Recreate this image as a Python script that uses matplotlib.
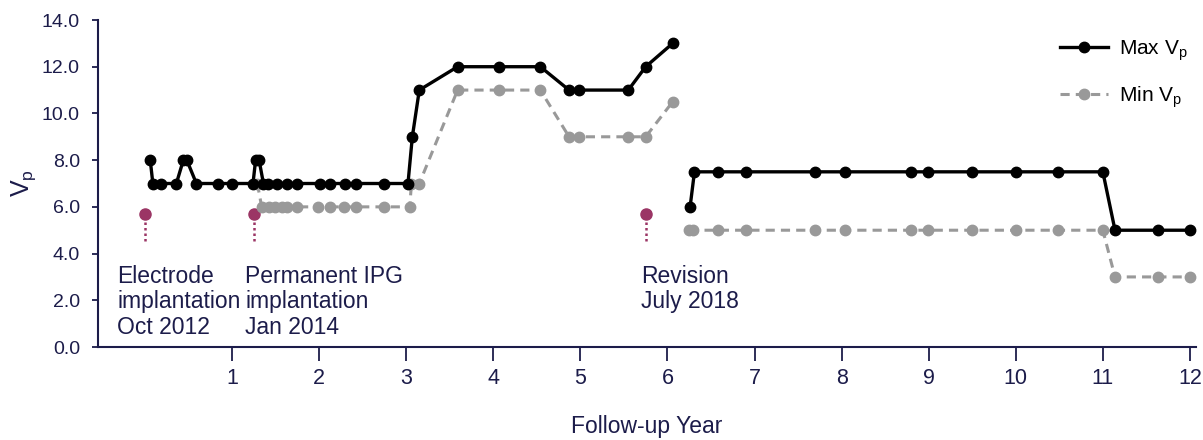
import matplotlib
matplotlib.use("Agg")
import matplotlib.pyplot as plt
import numpy as np

plt.rcParams['font.family'] = ['Liberation Sans', 'DejaVu Sans']
plt.rcParams['mathtext.fontset'] = 'custom'
plt.rcParams['mathtext.rm'] = 'Liberation Sans'
plt.rcParams['mathtext.it'] = 'Liberation Sans'

NAVY = '#1c1c4a'
GRAY = '#999999'
PLUM = '#9b3565'

# Max Vp, first period (before revision)
max_x1 = [0.06, 0.09, 0.18, 0.36, 0.44, 0.48, 0.59, 0.84, 1.00, 1.24, 1.27, 1.31,
          1.36, 1.41, 1.51, 1.63, 1.74, 2.01, 2.13, 2.30, 2.42, 2.74, 3.02, 3.07,
          3.15, 3.59, 4.07, 4.54, 4.87, 4.98, 5.55, 5.75, 6.06]
max_y1 = [8, 7, 7, 7, 8, 8, 7, 7, 7, 7, 8, 8,
          7, 7, 7, 7, 7, 7, 7, 7, 7, 7, 7, 9,
          11, 12, 12, 12, 11, 11, 11, 12, 13]
# Max Vp, after revision
max_x2 = [6.26, 6.31, 6.58, 6.90, 7.69, 8.04, 8.80, 8.99, 9.50, 10.00, 10.48, 11.00,
          11.14, 11.63, 12.00]
max_y2 = [6, 7.5, 7.5, 7.5, 7.5, 7.5, 7.5, 7.5, 7.5, 7.5, 7.5, 7.5,
          5, 5, 5]

# Min Vp
min_x1 = [1.29, 1.34, 1.42, 1.49, 1.57, 1.63, 1.74, 1.99, 2.12, 2.28, 2.42, 2.75,
          3.04, 3.06, 3.15, 3.59, 4.07, 4.54, 4.87, 4.98, 5.55, 5.75, 6.06]
min_y1 = [7, 6, 6, 6, 6, 6, 6, 6, 6, 6, 6, 6,
          6, 7, 7, 11, 11, 11, 9, 9, 9, 9, 10.5]
min_x2 = [6.25, 6.29, 6.58, 6.90, 7.69, 8.04, 8.80, 8.99, 9.50, 10.00, 10.48, 11.00,
          11.14, 11.63, 12.00]
min_y2 = [5, 5, 5, 5, 5, 5, 5, 5, 5, 5, 5, 5,
          3, 3, 3]

# clinical events
event_x = [0.0, 1.25, 5.75]
event_text_x = [-0.32, 1.15, 5.70]
event_labels = ['Electrode\nimplantation\nOct 2012',
                'Permanent IPG\nimplantation\nJan 2014',
                'Revision\nJuly 2018']

fig = plt.figure(figsize=(12.03, 4.40), dpi=100)
ax = fig.add_axes([98 / 1203, 1 - 347 / 440, (1196 - 98) / 1203, (347 - 20) / 440])

ax.plot(min_x1, min_y1, color=GRAY, lw=2.2, ls=(0, (3, 2)), marker='o', ms=7.5,
        label='Min V$_\\mathregular{p}$', zorder=2)
ax.plot(min_x2, min_y2, color=GRAY, lw=2.2, ls=(0, (3, 2)), marker='o', ms=7.5, zorder=2)
ax.plot(max_x1, max_y1, color='black', lw=2.4, marker='o', ms=7.5,
        label='Max V$_\\mathregular{p}$', zorder=3)
ax.plot(max_x2, max_y2, color='black', lw=2.4, marker='o', ms=7.5, zorder=3)

for ex, tx, lab in zip(event_x, event_text_x, event_labels):
    ax.plot([ex, ex], [4.55, 5.7], color=PLUM, lw=1.8, ls=(0, (1, 1.2)), zorder=1)
    ax.plot([ex], [5.7], 'o', color=PLUM, ms=8, zorder=1)
    ax.text(tx, 3.5, lab, ha='left', va='top', fontsize=16.5, color=NAVY, linespacing=1.12)

ax.set_xlim(-0.54, 12.07)
ax.set_ylim(0, 14)
ax.set_xticks(range(1, 13))
ax.set_yticks(np.arange(0, 15, 2))
ax.set_yticklabels([f'{v:.1f}' for v in np.arange(0, 15, 2)])

for s in ['top', 'right']:
    ax.spines[s].set_visible(False)
for s in ['left', 'bottom']:
    ax.spines[s].set_color(NAVY)
    ax.spines[s].set_linewidth(1.5)
ax.tick_params(axis='x', colors=NAVY, labelsize=15.5, length=10, width=1.3, pad=5)
ax.tick_params(axis='y', colors=NAVY, labelsize=14, length=4, width=1.3, pad=9)

ax.set_xlabel('Follow-up Year', fontsize=16.5, color=NAVY, labelpad=19)
ax.set_ylabel('V$_\\mathregular{p}$', fontsize=18, color=NAVY, labelpad=3)

handles, labels = ax.get_legend_handles_labels()
leg = ax.legend(handles[::-1], labels[::-1], loc='upper right', bbox_to_anchor=(1.0, 0.97),
                frameon=False, fontsize=15, handlelength=2.3, labelspacing=1.05,
                handletextpad=0.5, borderaxespad=0.0)
for t in leg.get_texts():
    t.set_color('black')

fig.savefig('out.png', dpi=100)
